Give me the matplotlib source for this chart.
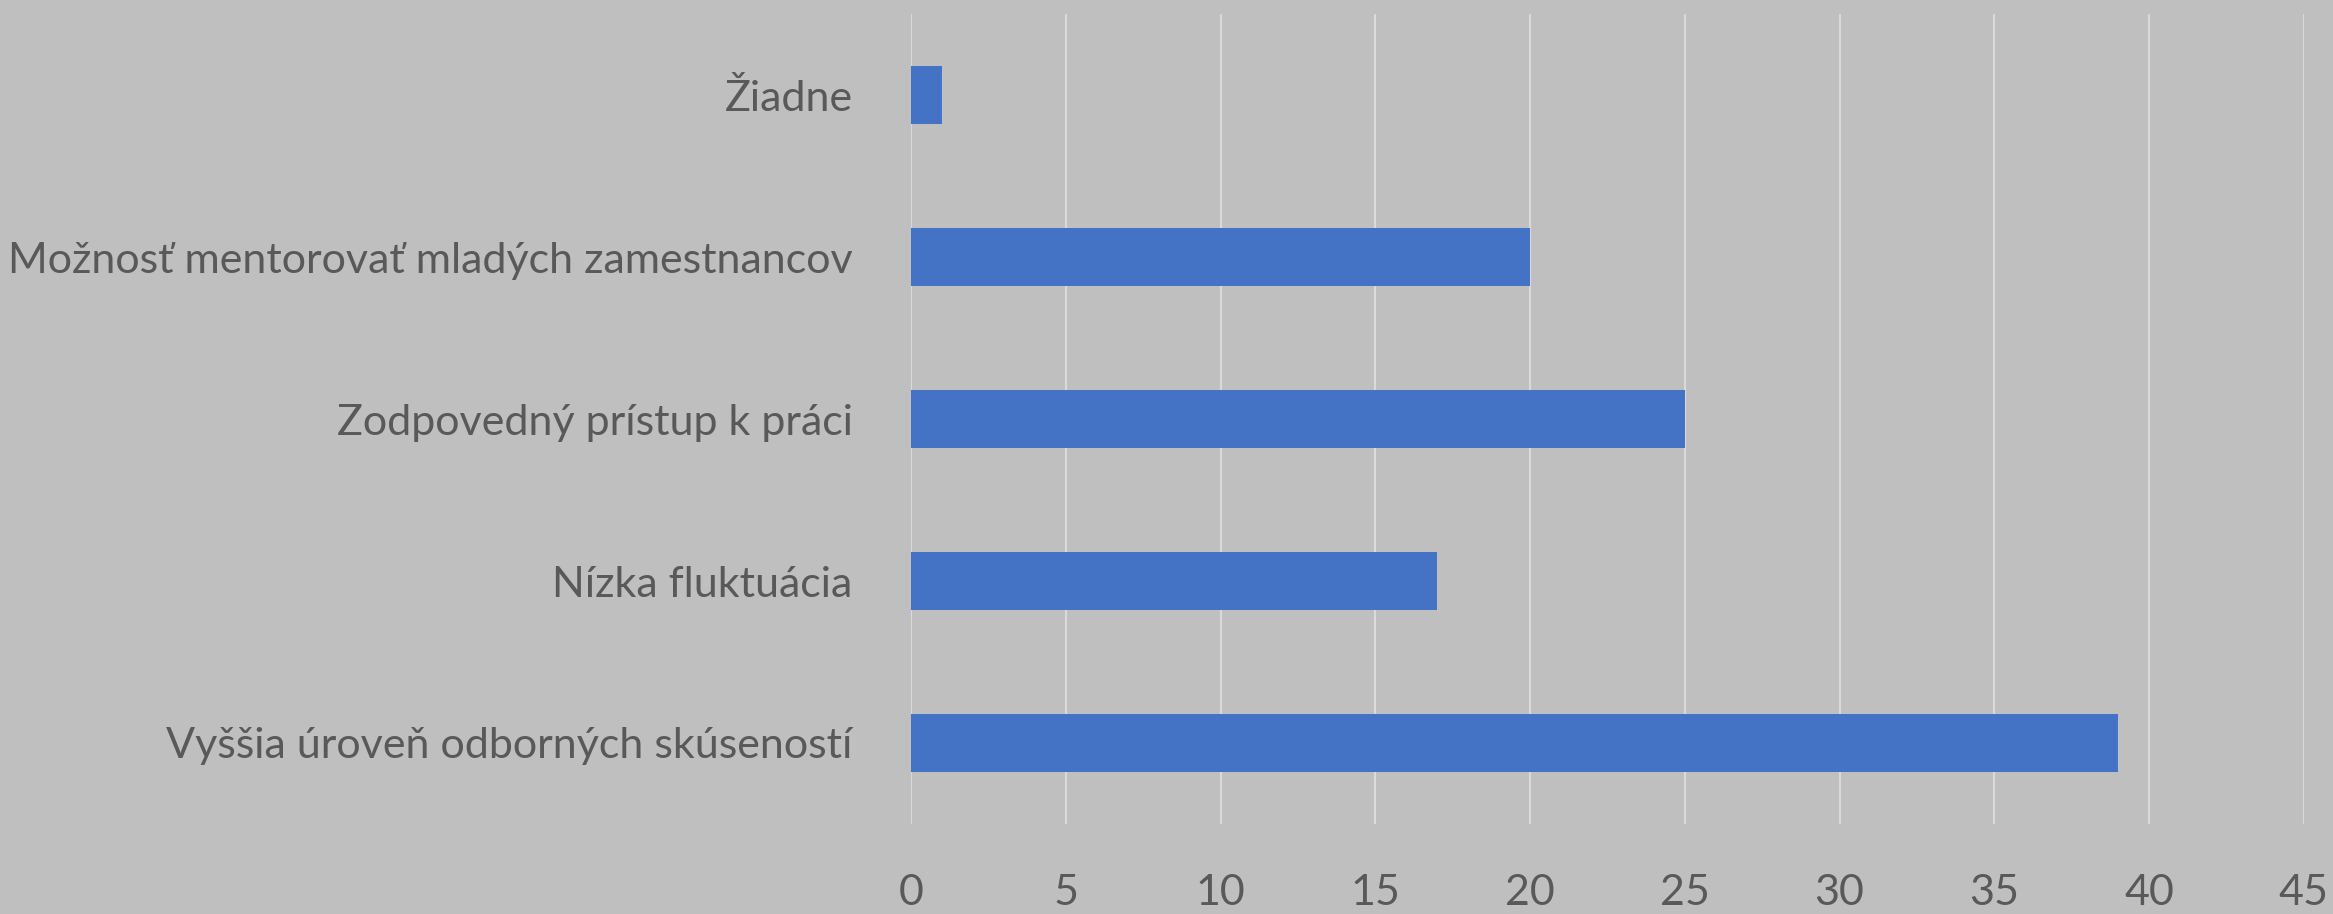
import matplotlib
matplotlib.use("Agg")
import matplotlib.pyplot as plt

# data, bottom to top
categories = ["Vyššia úroveň odborných skúseností",
              "Nízka fluktuácia",
              "Zodpovedný prístup k práci",
              "Možnosť mentorovať mladých zamestnancov",
              "Žiadne"]
values = [39, 17, 25, 20, 1]
xticks = [0, 5, 10, 15, 20, 25, 30, 35, 40, 45]

bg = "#BFBFBF"
txt = "#595959"

plt.rcParams['font.family'] = ['Lato', 'DejaVu Sans']

fig = plt.figure(figsize=(23.33, 9.14), dpi=100, facecolor=bg)
ax = fig.add_axes([0.3905, 0.0985, 0.597, 0.886])
ax.set_facecolor(bg)

ax.barh(range(len(categories)), values, height=0.36, color="#4472C4", zorder=3)

ax.set_xlim(0, 45)
ax.set_ylim(-0.5, len(categories) - 0.5)
ax.set_xticks(xticks)
ax.set_yticks(range(len(categories)))
ax.set_yticklabels(categories)

ax.grid(axis="x", color="#D9D9D9", linewidth=1.5, zorder=0)
ax.grid(axis="y", visible=False)
for s in ax.spines.values():
    s.set_visible(False)

ax.tick_params(axis="x", length=0, pad=36, labelsize=31, labelcolor=txt)
ax.tick_params(axis="y", length=0, pad=42, labelsize=31, labelcolor=txt)

fig.savefig("out.png", dpi=100, facecolor=bg)
